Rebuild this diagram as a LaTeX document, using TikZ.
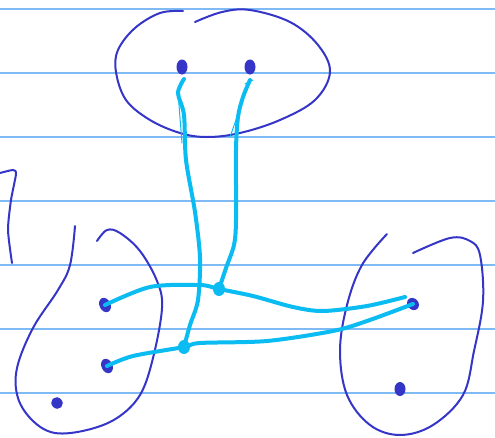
\documentclass[tikz,border=0pt]{standalone}
\usetikzlibrary{shapes.geometric}
\definecolor{paper}{HTML}{80BAF5}
\definecolor{ink}{HTML}{3535C8}
\definecolor{wire}{HTML}{0ABCF2}
\tikzset{
  ruled/.style={draw=paper, line width=2pt},
  outline/.style={draw=ink, line width=2pt, line cap=round, line join=round},
  dotnode/.style={ellipse, fill=ink, inner sep=0pt, minimum width=11pt, minimum height=15pt},
  junc/.style={ellipse, fill=wire, inner sep=0pt, minimum width=12pt, minimum height=14pt},
  wireline/.style={draw=wire, line width=4pt, line cap=round, line join=round},
  thinwire/.style={draw=wire, line width=1pt, line cap=round},
}
\begin{document}
\begin{tikzpicture}[x=1pt,y=-1pt]
\useasboundingbox (0,0) rectangle (495,437);
\fill[white] (0,0) rectangle (495,437);
% ruled paper
\foreach \yy in {9,73,137,201,265,329,393}
  \draw[ruled] (0,\yy) -- (495,\yy);

% outlines
\draw[outline] plot[smooth, tension=0.6] coordinates {
  (183,11) (160,13) (135,28) (118,50) (116,72) (126,100) (150,120) (180,133) (207,137)
  (240,133) (280,120) (315,100) (330,72) (318,45) (290,22) (250,10) (222,12) (195,22)};
\draw[outline] plot[smooth, tension=0.6] coordinates {
  (75,226) (70,265) (58,290) (33,328) (17,368) (18,398) (33,421) (55,433) (87,430)
  (117,418) (140,395) (153,358) (162,308) (157,281) (140,251) (120,233) (107,230) (97,241)};
\draw[outline] plot[smooth, tension=0.6] coordinates {
  (387,234) (362,265) (347,305) (340,351) (347,395) (370,425) (400,435) (433,425)
  (463,395) (474,351) (483,301) (480,255) (470,241) (450,238) (413,253)};
\draw[outline] plot[smooth, tension=0.4] coordinates {
  (0,173) (13,170) (16,174) (11,200) (8,230) (12,263)};

% dots
\node[dotnode] (t1) at (182,67) {};
\node[dotnode] (t2) at (250,67) {};
\node[dotnode, rotate=25] (l1) at (105,305) {};
\node[dotnode, rotate=25] (l2) at (107,366) {};
\node[dotnode, rotate=45, minimum height=12pt] (l3) at (57,403) {};
\node[dotnode, rotate=40, minimum height=13pt] (r1) at (413,304) {};
\node[dotnode, minimum width=11pt, minimum height=14pt] (r2) at (400,389) {};

% junctions
\node[junc] (ja) at (219,289) {};
\node[junc] (jb) at (184,347) {};

% wires
\draw[wireline] plot[smooth, tension=0.5] coordinates {
  (184,79) (178,93) (184,115) (186,160) (195,212) (200,258) (198,300) (190,325) (jb.center)};
\draw[wireline] plot[smooth, tension=0.5] coordinates {
  (250,80) (243,97) (238,117) (236,150) (236,220) (234,245) (226,268) (ja.center)};
\draw[wireline] plot[smooth, tension=0.5] coordinates {
  (l1.center) (150,287) (200,285) (ja.center) (253,296) (293,307) (323,311) (367,306) (405,297)};
\draw[wireline] plot[smooth, tension=0.5] coordinates {
  (l2.center) (133,356) (jb.center) (200,343) (267,341) (333,331) (367,321) (r1.center)};
% thin strokes
\draw[thinwire] (178,92) -- (180,118) -- (182,143);
\draw[thinwire] (230,137) -- (237,117);
\draw[thinwire] (245,84) -- (253,80);
\end{tikzpicture}
\end{document}
